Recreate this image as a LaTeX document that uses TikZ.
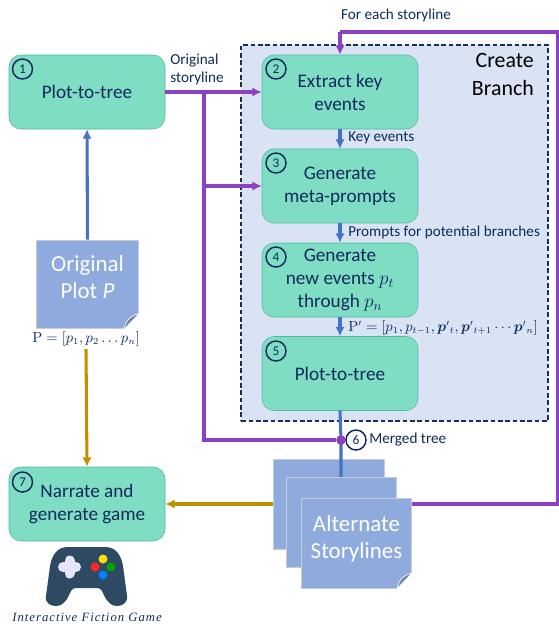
\documentclass[tikz,border=0pt]{standalone}
\usepackage[no-math]{fontspec}
\usepackage{amsmath}
\setmainfont{Carlito}
\newfontfamily\gamefont[LetterSpace=8]{Liberation Serif}
\usetikzlibrary{arrows.meta}
\definecolor{boxfill}{HTML}{7FDDC4}
\definecolor{boxline}{HTML}{4FB9A0}
\definecolor{inktext}{HTML}{10295C}
\definecolor{flowblue}{HTML}{4472C4}
\definecolor{flowpurple}{HTML}{8C41C2}
\definecolor{flowgold}{HTML}{BF9000}
\definecolor{docfill}{HTML}{8FAADC}
\definecolor{docline}{HTML}{C9CDD3}
\definecolor{branchfill}{HTML}{DAE3F3}
\definecolor{branchline}{HTML}{1B2F55}
\definecolor{padcolor}{HTML}{2E4A62}
\definecolor{flapcolor}{HTML}{6F86B0}
\tikzset{
  stage/.style={draw=boxline,fill=boxfill,rounded corners=9pt,minimum width=117pt,minimum height=55.5pt,
    align=center,text=inktext,inner sep=0pt,font=\fontsize{14.4}{17.2}\selectfont},
  numc/.style={circle,draw=inktext,line width=1.1pt,fill=none,minimum size=15pt,inner sep=0pt,text=inktext,font=\fontsize{10}{12}\selectfont},
  doc/.style={draw=docline,fill=docfill,line width=.8pt,inner sep=0pt,align=center,text=white,
    font=\fontsize{17.2}{20}\selectfont},
  lab/.style={text=inktext,inner sep=0pt,anchor=west,align=left,font=\fontsize{11.4}{13.5}\selectfont},
  blueflow/.style={draw=flowblue,line width=2.3pt,-{Latex[length=7pt,width=7pt]}},
  purpleflow/.style={draw=flowpurple,line width=2.3pt},
  goldflow/.style={draw=flowgold,line width=2.3pt,-{Latex[length=7pt,width=7pt]}},
}
% cut corner and flap of a document
\newcommand{\foldcorner}[1]{
  \fill[white] ([xshift=-11.5pt]#1.south east) -- ([yshift=12pt]#1.south east) -- ([shift={(1pt,-1pt)}]#1.south east) -- cycle;
  \filldraw[draw=white,line width=.5pt,fill=flapcolor] ([xshift=-11.5pt]#1.south east) .. controls ([shift={(-10pt,7pt)}]#1.south east) and ([shift={(-7pt,10pt)}]#1.south east) .. ([yshift=12pt]#1.south east) -- cycle;
}
\begin{document}
\begin{tikzpicture}[x=.75pt,y=-.75pt]
  \useasboundingbox (0,0) rectangle (559,628);
  % create branch area
  \node[draw=branchline,fill=branchfill,dash pattern=on 3.5pt off 2pt,line width=1.3pt,minimum width=230pt,minimum height=282pt,inner sep=0pt] (branch) at (394.5,233) {};
  \node[anchor=east,align=right,inner sep=0pt,font=\fontsize{16.4}{20.5}\selectfont] (branchlab) at (534,74.5) {Create\\Branch};
  % junctions
  \coordinate (j1) at (204,92);
  \coordinate (j2) at (204,186);
  \coordinate (j3) at (204,440);
  \coordinate (loopa) at (412,504);
  \coordinate (loopb) at (558,504);
  \coordinate (loopc) at (558,32);
  \coordinate (loopd) at (340,32);
  \coordinate (goldstart) at (274,504);
  \node[circle,fill=flowpurple,minimum size=7pt,inner sep=0pt] (merge) at (341,440) {};
  % stages
  \node[stage] (tree1) at (87,92) {Plot-to-tree};
  \node[stage] (extract) at (340,92) {Extract key\\events};
  \node[stage] (meta) at (340,186) {Generate\\meta-prompts};
  \node[stage] (newev) at (340,280) {Generate\\new events $p_t$\\through $p_n$};
  \node[stage] (tree2) at (340,373.5) {Plot-to-tree};
  \node[stage] (narrate) at (87,504) {Narrate and\\generate game};
  \node[numc] (c1) at (22.5,69) {1};
  \node[numc] (c2) at (276,69) {2};
  \node[numc] (c3) at (276,163) {3};
  \node[numc] (c4) at (276,257) {4};
  \node[numc] (c5) at (276,351) {5};
  \node[numc] (c6) at (356,440) {6};
  \node[numc] (c7) at (22.5,482) {7};
  % original plot
  \node[doc,minimum width=77pt,minimum height=66.5pt,text depth=11pt] (plot) at (87.5,284.5) {Original\\Plot \textit{P}};
  \foldcorner{plot}
  \node[text=inktext,inner sep=0pt,font=\fontsize{10.5}{12}\selectfont] (pform) at (86,339) {$\mathrm{P}=[p_1,p_2\ldots p_n]$};
  % connectors
  \draw[purpleflow,-{Latex[length=7pt,width=7pt]}] (tree1.east) -- (extract.west);
  \draw[purpleflow,-{Latex[length=7pt,width=7pt]}] (j2) -- (meta.west);
  \draw[purpleflow] (j1) -- (j3) -- (merge);
  \draw[blueflow] (plot.north) -- (tree1.south);
  \draw[blueflow] (extract.south) -- (meta.north);
  \draw[blueflow] (meta.south) -- (newev.north);
  \draw[blueflow] (newev.south) -- (tree2.north);
  \draw[goldflow] ([yshift=-2pt]pform.south) -- (narrate.north);
  \draw[goldflow] (goldstart) -- (narrate.east);
  \draw[purpleflow] (loopa) -- (loopb) -- (loopc) -- (loopd);
  \draw[purpleflow,-{Latex[length=7pt,width=7pt]}] (loopd) -- (extract.north);
  % stack of storylines
  \node[doc,minimum width=83pt,minimum height=67pt] (alta) at (329,504.5) {};
  \draw[flowblue,line width=2.3pt] (tree2.south) -- (merge.center) -- (341,478);
  \node[circle,fill=flowpurple,minimum size=7pt,inner sep=0pt] (mergetop) at (merge) {};
  \node[doc,minimum width=83pt,minimum height=67pt] (altb) at (341.5,522.5) {};
  \node[doc,minimum width=83pt,minimum height=67pt,text depth=10pt] (altc) at (356.5,543.5) {Alternate\\Storylines};
  \foldcorner{altc}
  % labels
  \node[lab] (origlab) at (170,69) {Original\\storyline};
  \node[lab,anchor=center] (eachlab) at (396,15) {For each storyline};
  \node[lab] (keylab) at (348,138) {Key events};
  \node[lab] (promptlab) at (348,232) {Prompts for potential branches};
  \node[lab,font=\fontsize{10.7}{12}\selectfont] (newlab) at (348,328) {$\mathrm{P}'=[p_1,p_{t-1},\boldsymbol{p}'{}_t,\boldsymbol{p}'{}_{t+1}\cdots\boldsymbol{p}'{}_n]$};
  \node[lab] (mergelab) at (369,440) {Merged tree};
  % game pad
  \fill[padcolor] (68,547) -- (105,547) .. controls (116,547) and (121,555) .. (123,566)
    -- (127,596) .. controls (128,603) and (122,606) .. (117,606) .. controls (112,606) and (109,603) .. (106,599)
    -- (102,591) .. controls (101,589) and (99,588) .. (97,588) -- (76,588)
    .. controls (74,588) and (72,589) .. (71,591) -- (67,599) .. controls (64,603) and (61,606) .. (56,606)
    .. controls (50,606) and (45,603) .. (46,596) -- (50,566) .. controls (52,555) and (57,547) .. (68,547) -- cycle;
  \draw[line width=7.5pt,color=white!90!blue,line cap=round] (63,567) -- (76,567);
  \draw[line width=7.5pt,color=white!90!blue,line cap=round] (69.5,560.5) -- (69.5,573.5);
  \fill[yellow!80!orange] (103,559) circle (4.5);
  \fill[red!85!white] (95,567) circle (4.5);
  \fill[green!65!black] (111,567) circle (4.5);
  \fill[blue!50!cyan] (103,575) circle (4.5);
  \node[text=inktext,inner sep=0pt,font=\gamefont\itshape\fontsize{9.5}{11}\selectfont] (gamelab) at (87,617) {Interactive Fiction Game};
\end{tikzpicture}
\end{document}
